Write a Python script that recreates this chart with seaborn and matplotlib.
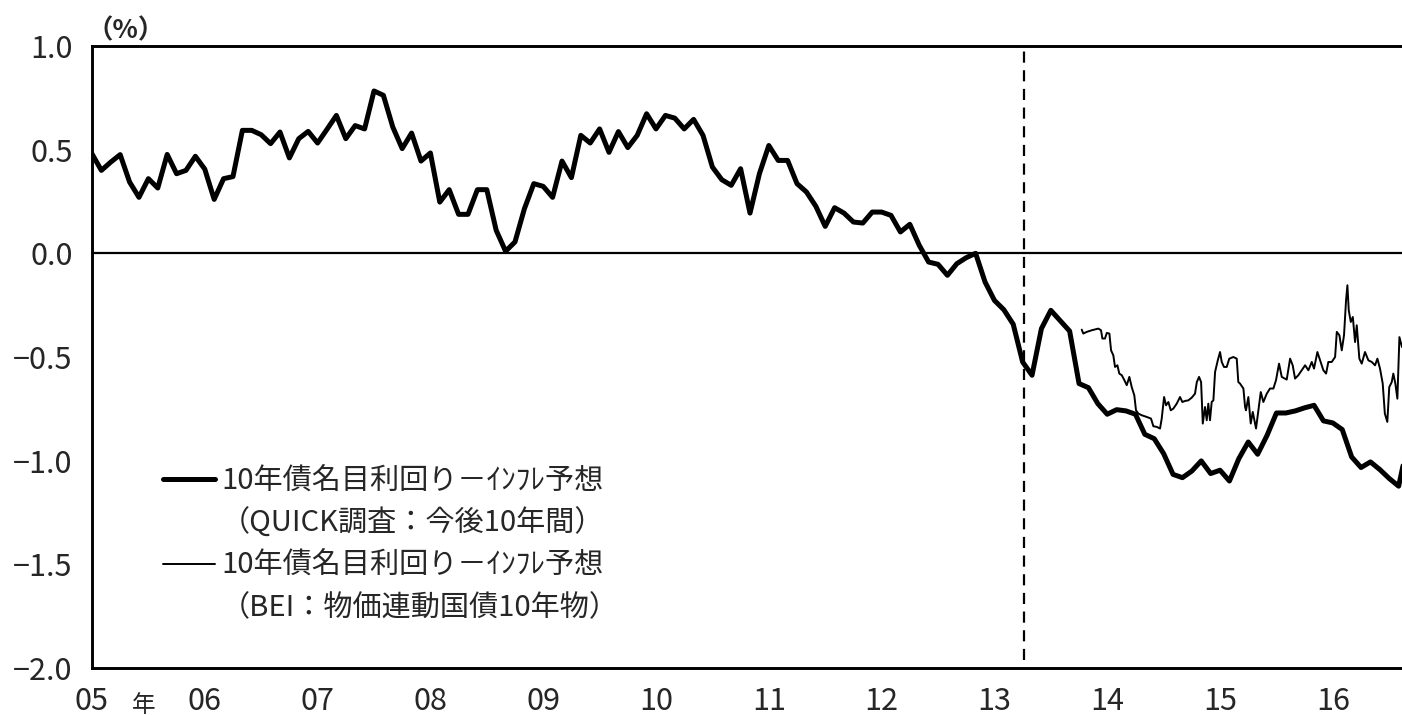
import numpy as np
import pandas as pd
import seaborn as sns
import matplotlib.pyplot as plt
from matplotlib.lines import Line2D

# QUICK survey based real yield (monthly, from Jan 2005)
quick_start = 2005
quick_vals = [0.48, 0.40, 0.44, 0.476, 0.344, 0.27, 0.36, 0.315, 0.477, 0.384, 0.40, 0.468,
              0.406, 0.26, 0.36, 0.37, 0.593, 0.593, 0.572, 0.529, 0.585, 0.46, 0.553, 0.588,
              0.532, 0.598, 0.665, 0.553, 0.616, 0.60, 0.783, 0.762, 0.609, 0.505, 0.58, 0.445,
              0.484, 0.247, 0.307, 0.188, 0.188, 0.307, 0.307, 0.111, 0.01, 0.055, 0.215, 0.336,
              0.323, 0.27, 0.445, 0.365, 0.569, 0.532, 0.60, 0.487, 0.587, 0.51, 0.569, 0.673,
              0.60, 0.665, 0.652, 0.60, 0.646, 0.569, 0.416, 0.355, 0.328, 0.408, 0.194, 0.384,
              0.52, 0.448, 0.448, 0.336, 0.296, 0.227, 0.13, 0.22, 0.194, 0.151, 0.146, 0.199,
              0.199, 0.183, 0.103, 0.14, 0.039, -0.042, -0.053, -0.106, -0.05, -0.021, 0.0, -0.138,
              -0.227, -0.272, -0.342, -0.524, -0.588, -0.363, -0.275, -0.325, -0.375, -0.628, -0.648, -0.725,
              -0.776, -0.754, -0.76, -0.776, -0.873, -0.894, -0.966, -1.066, -1.082, -1.05, -1.001, -1.062,
              -1.046, -1.098, -0.99, -0.91, -0.969, -0.878, -0.77, -0.77, -0.76, -0.745, -0.733, -0.808,
              -0.818, -0.85, -0.982, -1.033, -1.006, -1.043, -1.086, -1.123, -0.91]

# BEI based real yield (dates as decimal years)
bei_year = [2013.774, 2013.788, 2013.818, 2013.863, 2013.921, 2013.945, 2013.957, 2013.980, 2013.996,
            2014.019, 2014.034, 2014.054, 2014.069, 2014.090, 2014.107, 2014.129, 2014.152, 2014.173,
            2014.196, 2014.217, 2014.240, 2014.255, 2014.276, 2014.306, 2014.350, 2014.388, 2014.409,
            2014.439, 2014.468, 2014.483, 2014.504, 2014.521, 2014.542, 2014.563, 2014.586, 2014.616,
            2014.645, 2014.666, 2014.690, 2014.719, 2014.749, 2014.778, 2014.794, 2014.814, 2014.832,
            2014.847, 2014.867, 2014.882, 2014.896, 2014.911, 2014.926, 2014.941, 2014.956, 2014.980,
            2015.000, 2015.015, 2015.035, 2015.059, 2015.082, 2015.118, 2015.148, 2015.162, 2015.177,
            2015.207, 2015.222, 2015.230, 2015.251, 2015.272, 2015.290, 2015.319, 2015.340, 2015.361,
            2015.384, 2015.414, 2015.443, 2015.473, 2015.496, 2015.523, 2015.547, 2015.591, 2015.621,
            2015.644, 2015.665, 2015.694, 2015.724, 2015.754, 2015.783, 2015.813, 2015.833, 2015.863,
            2015.887, 2015.916, 2015.940, 2015.960, 2015.990, 2016.020, 2016.035, 2016.058, 2016.079,
            2016.099, 2016.117, 2016.129, 2016.141, 2016.159, 2016.177, 2016.197, 2016.212, 2016.235,
            2016.256, 2016.285, 2016.315, 2016.345, 2016.374, 2016.395, 2016.418, 2016.442, 2016.461,
            2016.483, 2016.500, 2016.522, 2016.536, 2016.554, 2016.572, 2016.590, 2016.613]
bei_vals = [-0.368, -0.387, -0.379, -0.371, -0.363, -0.371, -0.411, -0.411, -0.384,
            -0.387, -0.468, -0.492, -0.548, -0.540, -0.580, -0.588, -0.612, -0.636,
            -0.596, -0.645, -0.685, -0.757, -0.773, -0.781, -0.789, -0.797, -0.834,
            -0.837, -0.845, -0.797, -0.693, -0.733, -0.717, -0.757, -0.749, -0.725,
            -0.693, -0.717, -0.712, -0.709, -0.696, -0.677, -0.621, -0.596, -0.621,
            -0.821, -0.741, -0.805, -0.725, -0.805, -0.717, -0.709, -0.572, -0.516,
            -0.476, -0.524, -0.548, -0.548, -0.508, -0.500, -0.508, -0.621, -0.628,
            -0.652, -0.741, -0.757, -0.693, -0.821, -0.765, -0.845, -0.757, -0.669,
            -0.717, -0.677, -0.652, -0.652, -0.612, -0.532, -0.596, -0.609, -0.508,
            -0.540, -0.604, -0.588, -0.564, -0.540, -0.564, -0.524, -0.556, -0.476,
            -0.516, -0.564, -0.580, -0.524, -0.524, -0.500, -0.379, -0.395, -0.468,
            -0.395, -0.227, -0.154, -0.275, -0.331, -0.307, -0.428, -0.347, -0.508,
            -0.532, -0.476, -0.516, -0.524, -0.540, -0.508, -0.556, -0.628, -0.773,
            -0.813, -0.645, -0.621, -0.580, -0.628, -0.701, -0.404, -0.452]

year_ticks = list(range(2005, 2017))
year_labels = ['05', '06', '07', '08', '09', '10', '11', '12', '13', '14', '15', '16']
y_ticks = [1.0, 0.5, 0.0, -0.5, -1.0, -1.5, -2.0]
y_labels = ['1.0', '0.5', '0.0', '−0.5', '−1.0', '−1.5', '−2.0']
qqe_year = 2013.26

label_quick = ['10年債名目利回り－ｲﾝﾌﾚ予想', '（QUICK調査：今後10年間）']
label_bei = ['10年債名目利回り－ｲﾝﾌﾚ予想', '（BEI：物価連動国債10年物）']

df_q = pd.DataFrame({'year': quick_start + np.arange(len(quick_vals)) / 12, 'value': quick_vals})
df_b = pd.DataFrame({'year': bei_year, 'value': bei_vals})

sns.set_style('white')
plt.rcParams['font.family'] = ['Noto Sans CJK JP', 'DejaVu Sans']

fig = plt.figure(figsize=(14.02, 7.15), dpi=100)
ax = fig.add_axes([0.0656, 0.0657, 0.9344, 0.87])

sns.lineplot(data=df_q, x='year', y='value', color='black', lw=3.6, estimator=None, ax=ax)
sns.lineplot(data=df_b, x='year', y='value', color='black', lw=1.4, estimator=None, ax=ax)

ax.axhline(0, color='black', lw=1.6)
ax.vlines(qqe_year, -1.96, 1.0, color='black', lw=1.6, linestyles=(0, (5, 3.4)))

ax.set_xlim(2005, 2016.613)
ax.set_ylim(-2.0, 1.0)
ax.set_xticks(year_ticks)
ax.set_xticklabels(year_labels)
ax.set_yticks(y_ticks)
ax.set_yticklabels(y_labels)
ax.set_xlabel('')
ax.set_ylabel('')
ax.tick_params(axis='x', direction='in', length=5, width=1.6, pad=13, labelsize=22)
ax.tick_params(axis='y', direction='out', length=5, width=1.6, pad=9, labelsize=22)

for side in ['left', 'bottom', 'top']:
    ax.spines[side].set_visible(True)
    ax.spines[side].set_color('black')
    ax.spines[side].set_linewidth(2.1)
ax.spines['right'].set_visible(False)

ax.text(2005.46, -0.06, '年', transform=ax.get_xaxis_transform(), ha='center', va='center', fontsize=17)
ax.text(-0.004, 1.002, '（%）', transform=ax.transAxes, ha='left', va='bottom', fontsize=19,
        fontweight='bold')

blank = Line2D([], [], color='none')
handles = [Line2D([], [], color='black', lw=3.6), blank,
           Line2D([], [], color='black', lw=1.4), blank]
labels = label_quick + label_bei
ax.legend(handles, labels, loc='upper left', bbox_to_anchor=(0.054, 0.324), frameon=False,
          fontsize=21, handlelength=1.8, handletextpad=0.2, labelspacing=0.42,
          borderpad=0, borderaxespad=0)

fig.savefig('out.png', dpi=100)
